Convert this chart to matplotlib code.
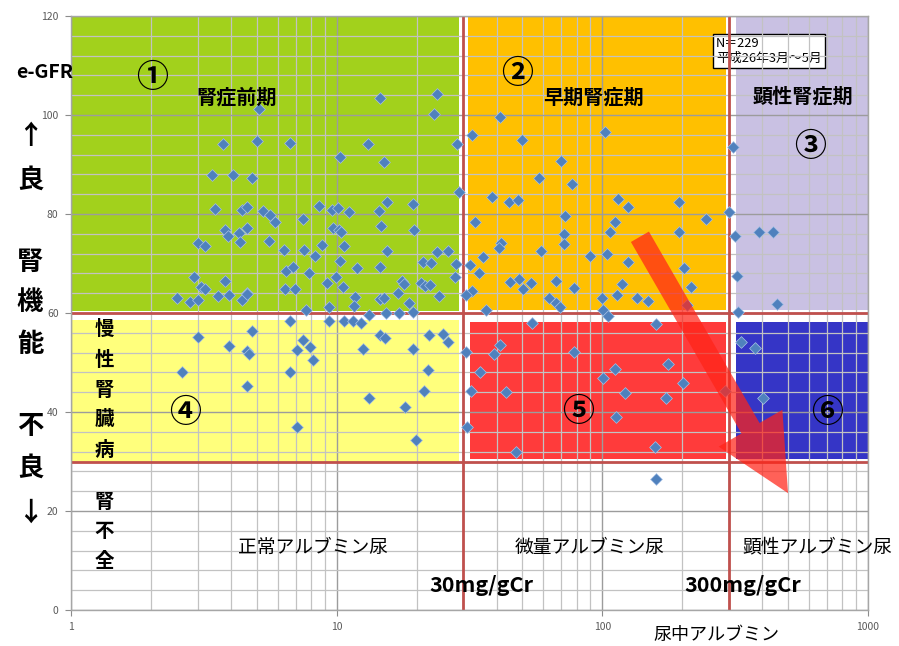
import matplotlib
matplotlib.use('Agg')
import matplotlib.pyplot as plt
from matplotlib.ticker import LogLocator, NullFormatter, FixedLocator

plt.rcParams['font.family'] = ['Noto Sans CJK JP', 'DejaVu Sans']

# ---------------- data (urinary albumin mg/gCr, eGFR) ----------------
stage1_alb = [5.10, 3.73, 5.01, 6.67, 3.40, 4.07, 4.80, 8.58, 3.48, 4.40, 4.60, 5.28, 5.61, 5.86, 7.47,
              3.80, 3.90, 4.60, 4.29, 4.33, 5.56, 3.01, 3.19, 6.34, 7.53, 8.28, 8.81, 2.90, 3.80, 6.45,
              6.85, 7.87, 3.09, 3.19, 6.39, 6.97, 4.60, 2.51, 2.81, 3.01, 3.57, 3.93, 4.40, 4.60, 7.66,
              9.19, 9.35, 9.60, 10.1, 10.3, 9.68, 10.2, 10.4, 9.94, 10.7, 10.3, 10.6, 11.1, 11.9, 11.7,
              11.6, 13.1, 14.6, 15.1, 15.5, 14.4, 14.7, 15.5, 14.6, 14.6, 15.1, 15.3, 17.2, 17.0, 17.6,
              17.9, 18.7, 19.4, 19.4, 19.5, 21.1, 22.6, 20.8, 21.5, 22.5, 23.9, 24.3, 23.9, 23.3, 26.2,
              28.4, 28.9, 28.1, 27.9]
stage1_gfr = [101.2, 94.1, 94.7, 94.3, 87.9, 87.9, 87.3, 81.6, 81.0, 80.8, 81.4, 80.6, 79.8, 78.4, 79.0,
              76.8, 75.6, 77.2, 76.2, 74.3, 74.5, 74.1, 73.5, 72.7, 72.7, 71.5, 73.7, 67.3, 66.5, 68.5,
              69.3, 68.1, 65.3, 64.8, 64.8, 64.8, 64.0, 63.0, 62.2, 62.6, 63.4, 63.6, 62.6, 63.8, 60.6,
              66.1, 61.2, 80.8, 81.2, 91.5, 77.2, 76.8, 76.4, 67.3, 73.5, 70.5, 65.3, 80.4, 69.1, 63.2,
              61.4, 94.1, 103.4, 90.5, 82.4, 80.6, 77.6, 72.5, 69.3, 62.8, 63.0, 60.0, 60.0, 64.0, 66.5,
              65.9, 62.0, 60.2, 82.0, 76.8, 70.3, 70.1, 66.1, 65.5, 65.7, 72.3, 63.4, 104.2, 100.2, 72.5,
              94.1, 84.4, 69.9, 67.3]

stage2_alb = [32.3, 33.2, 31.7, 34.3, 35.5, 32.3, 30.7, 36.5, 41.2, 102, 49.8, 69.9, 57.7, 76.9, 38.4,
              44.5, 48.1, 114.5, 124.9, 72.3, 111.5, 106.8, 71.7, 71.7, 41.5, 40.8, 58.7, 89.8, 104,
              124.9, 44.9, 48.5, 50.2, 53.9, 66.9, 78.2, 118.5, 113.5, 135, 148.5, 99.7, 63.0, 66.9, 69.2,
              100.5, 194, 299.6, 310, 245.4, 194, 202.9, 215.6, 208]
stage2_gfr = [96.0, 78.4, 69.7, 68.1, 71.3, 64.4, 63.6, 60.6, 99.6, 96.6, 95.0, 90.7, 87.3, 86.1, 83.4,
              82.4, 82.8, 83.0, 81.4, 79.6, 78.4, 76.4, 76.0, 73.9, 74.1, 73.1, 72.5, 71.5, 71.9,
              70.3, 66.3, 66.9, 64.8, 66.1, 66.5, 65.0, 65.9, 63.6, 63.0, 62.4, 63.0, 63.0, 62.0, 61.2,
              60.6, 82.4, 80.4, 93.5, 79.0, 76.4, 69.1, 65.3, 61.6]

stage3_alb = [315.6, 388, 438.6, 321, 323.7, 454]
stage3_gfr = [75.6, 76.4, 76.4, 67.5, 60.2, 61.8]

stage4_alb = [6.67, 9.35, 10.7, 11.5, 12.4, 13.2, 3.01, 4.80, 3.93, 4.60, 4.68, 7.47, 7.94, 7.09, 8.14,
              2.62, 6.67, 4.60, 7.09, 14.6, 15.2, 12.6, 19.4, 22.3, 25.1, 26.2, 22.1, 13.2, 21.3, 18.1, 19.9]
stage4_gfr = [58.4, 58.4, 58.4, 58.4, 58.0, 59.6, 55.2, 56.4, 53.3, 52.3, 51.7, 54.5, 53.1, 52.5, 50.5,
              48.1, 48.1, 45.3, 37.0, 55.6, 54.9, 52.7, 52.7, 55.6, 55.8, 54.1, 48.5, 42.8, 44.2, 41.0, 34.3]

stage5_alb = [30.7, 34.6, 32.0, 30.9, 54.3, 41.2, 39.1, 78.2, 111.5, 100.5, 121.6, 43.4, 112.5, 47.3,
              159, 176.6, 201, 173.5, 289, 157.8, 159, 105]
stage5_gfr = [52.1, 48.1, 44.2, 37.0, 58.0, 53.5, 51.7, 52.1, 48.7, 46.9, 43.8, 44.0, 39.0, 31.9,
              57.8, 49.7, 45.9, 42.8, 44.2, 32.9, 26.5, 59.4]

stage6_alb = [332.5, 375, 402]
stage6_gfr = [54.1, 52.9, 42.8]

xtick_vals = [1, 10, 100, 1000]
xtick_labels = ['1', '10', '100', '1000']
ytick_vals = [0, 20, 40, 60, 80, 100, 120]

alb_thresholds = [30, 300]
gfr_thresholds = [60, 30]

# region fills: (x0, x1, y0, y1, colour)
regions = [
    (1, 28.9, 60.5, 120, '#A2D11C'),
    (31.2, 292, 60.6, 120, '#FFC000'),
    (318, 1000, 60.6, 120, '#C9C1E3'),
    (1, 28.9, 30.0, 58.6, '#FFFF7C'),
    (31.7, 292, 30.5, 58.2, '#FF3B3B'),
    (318, 1000, 30.5, 58.2, '#3535C6'),
]

# ---------------- figure ----------------
W, H = 899, 646
fig = plt.figure(figsize=(W / 100, H / 100), dpi=100)
ax = fig.add_axes([71 / W, 1 - 610 / H, (868 - 71) / W, (610 - 16) / H])
ax.set_xscale('log')
ax.set_xlim(1, 1000)
ax.set_ylim(0, 120)

for x0, x1, y0, y1, c in regions:
    ax.fill_between([x0, x1], y0, y1, color=c, lw=0, zorder=1)

ax.set_axisbelow('line')
ax.set_xticks(xtick_vals)
ax.set_xticklabels(xtick_labels)
ax.xaxis.set_minor_locator(LogLocator(base=10, subs=range(2, 10)))
ax.xaxis.set_minor_formatter(NullFormatter())
ax.set_yticks(ytick_vals)
ax.yaxis.set_minor_locator(FixedLocator(range(0, 121, 4)))
ax.grid(which='major', color='#9C9C9C', lw=1.0)
ax.grid(which='minor', color='#C2C2C2', lw=0.9)
ax.tick_params(which='minor', length=0)
ax.tick_params(which='major', length=4, color='#8C8C8C', labelsize=7.5,
               labelcolor='#595959', pad=5)
for sp in ax.spines.values():
    sp.set_color('#A6A6A6')
    sp.set_linewidth(1.0)

for v in alb_thresholds:
    ax.axvline(v, color='#C0504D', lw=2, zorder=2)
for v in gfr_thresholds:
    ax.axhline(v, color='#C0504D', lw=2, zorder=2)

groups = [(stage1_alb, stage1_gfr), (stage2_alb, stage2_gfr), (stage3_alb, stage3_gfr),
          (stage4_alb, stage4_gfr), (stage5_alb, stage5_gfr), (stage6_alb, stage6_gfr)]
for xs, ys in groups:
    ax.scatter(xs, ys, marker='D', s=36, color='#4F81BD', edgecolors='#A8C2E6',
               linewidths=0.5, zorder=3)

# big red arrow
ax.annotate('', xy=(500, 23.6), xytext=(138.5, 75.4),
            arrowprops=dict(arrowstyle='simple,head_length=5.4,head_width=5.3,tail_width=1.5',
                            mutation_scale=10, color='#FF2418', alpha=0.72, lw=0,
                            shrinkA=0, shrinkB=0),
            zorder=3.5)

# ---------------- texts in the plot ----------------
circ = dict(fontsize=23, fontweight='bold', ha='center', va='center', zorder=4)
ax.text(2.02, 107.5, '①', **circ)
ax.text(4.21, 103.6, '腎症前期', fontsize=14.5, fontweight='bold', ha='center', va='center', zorder=4)
ax.text(47.7, 108.3, '②', **circ)
ax.text(92.2, 103.6, '早期腎症期', fontsize=14.5, fontweight='bold', ha='center', va='center', zorder=4)
ax.text(569, 103.8, '顕性腎症期', fontsize=14.5, fontweight='bold', ha='center', va='center', zorder=4)
ax.text(604, 93.5, '③', **circ)
ax.text(2.69, 39.8, '④', **circ)
ax.text(80.9, 40.0, '⑤', **circ)
ax.text(700, 39.8, '⑥', **circ)

ax.text(267.7, 115.8, 'N＝229\n平成26年3月～5月', fontsize=9.3, ha='left', va='top',
        linespacing=1.2, zorder=1.2,
        bbox=dict(boxstyle='square,pad=0.22', fc='white', ec='black', lw=1.0))

for ch, yv in zip('慢性腎臓病', [56.6, 50.5, 44.4, 38.4, 32.3]):
    ax.text(1.331, yv, ch, fontsize=14, fontweight='bold', ha='center', va='center', zorder=4)
for ch, yv in zip('腎不全', [21.8, 15.8, 9.7]):
    ax.text(1.331, yv, ch, fontsize=14, fontweight='bold', ha='center', va='center', zorder=4)

ax.text(8.14, 12.7, '正常アルブミン尿', fontsize=13.5, ha='center', va='center', zorder=4)
ax.text(89.8, 12.7, '微量アルブミン尿', fontsize=13.5, ha='center', va='center', zorder=4)
ax.text(642, 12.7, '顕性アルブミン尿', fontsize=13.5, ha='center', va='center', zorder=4,
        clip_on=False)
ax.text(35.2, 5.05, '30mg/gCr', fontsize=15.5, fontweight='bold', ha='center', va='center', zorder=4)
ax.text(338, 5.05, '300mg/gCr', fontsize=15.5, fontweight='bold', ha='center', va='center', zorder=4)
ax.text(270, -5.05, '尿中アルブミン', fontsize=13, ha='center', va='center', clip_on=False)

# ---------------- left-hand labels ----------------
def ftxt(px, py, s, **kw):
    fig.text(px / W, 1 - py / H, s, ha='center', va='center', **kw)

ftxt(45, 72, 'e-GFR', fontsize=14, fontweight='bold')
for s, py in [('↑', 137), ('良', 180), ('腎', 262), ('機', 302), ('能', 344),
              ('不', 427), ('良', 468), ('↓', 513)]:
    ftxt(30, py, s, fontsize=19, fontweight='bold')

fig.savefig('out.png', dpi=100)
